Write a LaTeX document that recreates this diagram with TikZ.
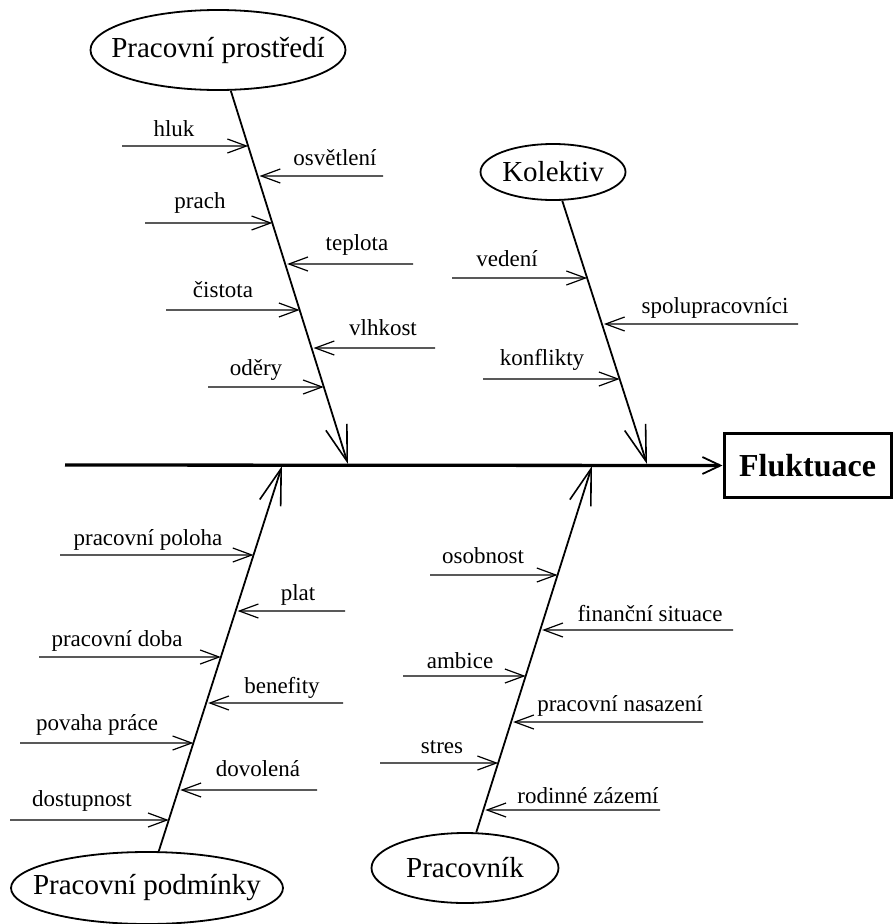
\documentclass[tikz,border=0pt]{standalone}
\usepackage{fontspec}
\setmainfont{Liberation Serif}
\usetikzlibrary{shapes.geometric,arrows.meta,calc}
\begin{document}
\begin{tikzpicture}[x=1pt,y=-1pt,
  lab/.style={font=\fontsize{23}{27}\selectfont, inner sep=0pt, anchor=base},
  cat/.style={ellipse, draw, line width=1.8pt, inner sep=0pt},
  catlab/.style={font=\fontsize{29}{34}\selectfont, inner sep=0pt},
  bone/.style={line width=1.8pt, -{Straight Barb[length=36pt,width=22pt,line width=1.6pt]}},
  br/.style={line width=1.2pt, -{Straight Barb[length=19pt,width=14pt]}},
  spine/.style={line width=3.3pt, -{Straight Barb[length=18pt,width=17pt,line width=1.8pt]}},
  effect/.style={draw, line width=3pt, minimum width=167pt, minimum height=64pt, inner sep=0pt,
    font=\fontsize{32}{38}\selectfont\bfseries}
]
\useasboundingbox (0,0) rectangle (893,924);
\fill[white] (0,0) rectangle (893,924);

% categories
\node[cat, minimum width=255pt, minimum height=80pt,
  label={[catlab]center:Pracovní prostředí}] (ppEll) at (218,50) {};
\node[cat, minimum width=145pt, minimum height=56pt,
  label={[catlab]center:Kolektiv}] (kolEll) at (553,172) {};
\node[cat, minimum width=272pt, minimum height=72pt,
  label={[catlab]center:Pracovní podmínky}] (podEll) at (147,888) {};
\node[cat, minimum width=187pt, minimum height=70pt,
  label={[catlab]center:Pracovník}] (prEll) at (465,868) {};
\node[effect] (fluk) at (807.5,465.5) {Fluktuace};

% spine
\coordinate (spL) at (65,465);
\draw[spine] (spL) -- (fluk.west);

% bone tips
\coordinate (ulTip) at (348,464);
\coordinate (urTip) at (647,464);
\coordinate (llTip) at (282,466);
\coordinate (lrTip) at (592,466);

\draw[bone] (ppEll) -- (ulTip);
\draw[bone] (kolEll) -- (urTip);
\draw[bone] (podEll) -- (llTip);
\draw[bone] (prEll) -- (lrTip);

% Pracovní prostředí branches (left side)
\foreach \n/\yy/\xs/\lx/\ly/\t in {a/146/122/174/128/hluk, b/223/145/200/200/prach,
    c/310/166/223/289/čistota, d/387/208/256/367/oděry}{
  \coordinate (ul\n s) at (\xs,\yy);
  \coordinate (ul\n e) at ($(ppEll.center)!{(\yy-50)/(464-50)}!(ulTip)$);
  \draw[br] (ul\n s) -- (ul\n e);
  \node[lab] (ul\n l) at (\lx,{\ly+8}) {\t};
}
% Pracovní prostředí branches (right side)
\foreach \n/\yy/\xs/\lx/\ly/\t in {e/176/383/335/157/osvětlení, f/264/413/357/242/teplota,
    g/348/435/383/327/vlhkost}{
  \coordinate (ul\n s) at (\xs,\yy);
  \coordinate (ul\n e) at ($($(ppEll.center)!{(\yy-50)/(464-50)}!(ulTip)$)+(2,0)$);
  \draw[br] (ul\n s) -- (ul\n e);
  \node[lab] (ul\n l) at (\lx,{\ly+8}) {\t};
}

% Kolektiv branches
\foreach \n/\yy/\xs/\lx/\ly/\t in {a/278/452/507/258/vedení, b/379/483/542/357/konflikty}{
  \coordinate (ur\n s) at (\xs,\yy);
  \coordinate (ur\n e) at ($(kolEll.center)!{(\yy-172)/(464-172)}!(urTip)$);
  \draw[br] (ur\n s) -- (ur\n e);
  \node[lab] (ur\n l) at (\lx,{\ly+8}) {\t};
}
\foreach \n/\yy/\xs/\lx/\ly/\t in {c/324/798/715/305/spolupracovníci}{
  \coordinate (ur\n s) at (\xs,\yy);
  \coordinate (ur\n e) at ($($(kolEll.center)!{(\yy-172)/(464-172)}!(urTip)$)+(2,0)$);
  \draw[br] (ur\n s) -- (ur\n e);
  \node[lab] (ur\n l) at (\lx,{\ly+8}) {\t};
}

% Pracovní podmínky branches
\foreach \n/\yy/\xs/\lx/\ly/\t in {a/555/60/148/537/pracovní poloha, b/657/39/117/638/pracovní doba,
    c/743/20/97/722/povaha práce, d/820/10/82/798/dostupnost}{
  \coordinate (ll\n s) at (\xs,\yy);
  \coordinate (ll\n e) at ($(podEll.center)!{(888-\yy)/(888-466)}!(llTip)$);
  \draw[br] (ll\n s) -- (ll\n e);
  \node[lab] (ll\n l) at (\lx,{\ly+8}) {\t};
}
\foreach \n/\yy/\xs/\lx/\ly/\t in {e/611/345/298/592/plat, f/703/343/282/685/benefity,
    g/790/317/258/768/dovolená}{
  \coordinate (ll\n s) at (\xs,\yy);
  \coordinate (ll\n e) at ($($(podEll.center)!{(888-\yy)/(888-466)}!(llTip)$)+(2,0)$);
  \draw[br] (ll\n s) -- (ll\n e);
  \node[lab] (ll\n l) at (\lx,{\ly+8}) {\t};
}

% Pracovník branches
\foreach \n/\yy/\xs/\lx/\ly/\t in {a/575/430/483/555/osobnost, b/676/403/460/660/ambice,
    c/763/380/442/745/stres}{
  \coordinate (lr\n s) at (\xs,\yy);
  \coordinate (lr\n e) at ($(prEll.center)!{(868-\yy)/(868-466)}!(lrTip)$);
  \draw[br] (lr\n s) -- (lr\n e);
  \node[lab] (lr\n l) at (\lx,{\ly+8}) {\t};
}
\foreach \n/\yy/\xs/\lx/\ly/\t in {d/630/733/650/613/finanční situace, e/722/703/620/703/pracovní nasazení,
    f/810/660/588/795/rodinné zázemí}{
  \coordinate (lr\n s) at (\xs,\yy);
  \coordinate (lr\n e) at ($($(prEll.center)!{(868-\yy)/(868-466)}!(lrTip)$)+(2,0)$);
  \draw[br] (lr\n s) -- (lr\n e);
  \node[lab] (lr\n l) at (\lx,{\ly+8}) {\t};
}
\end{tikzpicture}
\end{document}
